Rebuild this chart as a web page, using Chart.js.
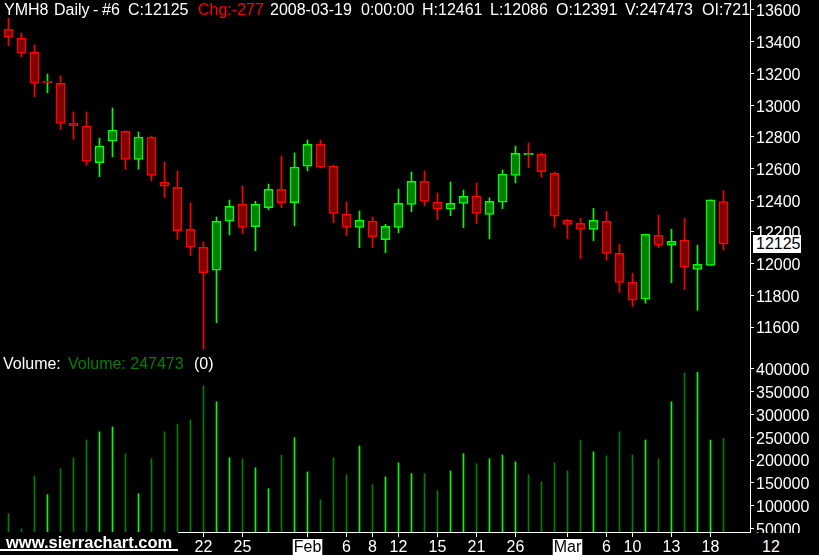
<!DOCTYPE html>
<html><head><meta charset="utf-8">
<script src="https://cdn.jsdelivr.net/npm/chart.js@4/dist/chart.umd.min.js"></script>
<style>
html,body{margin:0;padding:0;background:#000;width:819px;height:555px;overflow:hidden;}
#wrap{position:relative;width:819px;height:555px;background:#000;font-family:"Liberation Sans",Arial,sans-serif;}
canvas{position:absolute;left:0;}
#pc{top:0;}
#vc{top:350px;}
.t{position:absolute;white-space:pre;font-size:16px;line-height:16px;color:#fff;}
#hdr{position:absolute;left:0;top:0;width:750px;height:20px;overflow:hidden;}
</style></head><body>
<div id="wrap">
<canvas id="pc" width="819" height="350"></canvas>
<canvas id="vc" width="819" height="205"></canvas>
<div id="hdr">
  <span class="t" style="left:4px;top:2px">YMH8</span>
  <span class="t" style="left:54px;top:2px">Daily</span>
  <span class="t" style="left:93px;top:2px">-</span>
  <span class="t" style="left:102px;top:2px">#6</span>
  <span class="t" style="left:128px;top:2px">C:12125</span>
  <span class="t" style="left:198px;top:2px;color:#ff0000">Chg:-277</span>
  <span class="t" style="left:270px;top:2px">2008-03-19</span>
  <span class="t" style="left:361px;top:2px">0:00:00</span>
  <span class="t" style="left:422px;top:2px">H:12461</span>
  <span class="t" style="left:490px;top:2px">L:12086</span>
  <span class="t" style="left:556px;top:2px">O:12391</span>
  <span class="t" style="left:625px;top:2px">V:247473</span>
  <span class="t" style="left:702px;top:2px">OI:72100</span>
</div>
<span class="t" style="left:3px;top:356px">Volume:</span>
<span class="t" style="left:68px;top:356px;color:#008000">Volume: 247473</span>
<span class="t" style="left:194px;top:356px">(0)</span>
<div style="position:absolute;left:751px;top:533px;width:68px;height:22px;background:#000"></div>
<span class="t" style="left:762px;top:539px">12</span>
<span class="t" style="left:6px;top:534px;font-weight:bold;font-size:16.5px">www.sierrachart.com</span>
<div style="position:absolute;left:0;top:549px;width:178px;height:2px;background:#fff"></div>
<div id="last" style="position:absolute;left:753px;top:235px;width:48px;height:18px;background:#fff;"><span class="t" style="left:3px;top:1px;color:#000">12125</span></div>
</div>
<script>
// ---- data (YMH8 daily) ----
const dates = ['2007-12-28','2007-12-31','2008-01-02','2008-01-03','2008-01-04','2008-01-07','2008-01-08','2008-01-09','2008-01-10','2008-01-11',
 '2008-01-14','2008-01-15','2008-01-16','2008-01-17','2008-01-18','2008-01-22','2008-01-23','2008-01-24','2008-01-25','2008-01-28',
 '2008-01-29','2008-01-30','2008-01-31','2008-02-01','2008-02-04','2008-02-05','2008-02-06','2008-02-07','2008-02-08','2008-02-11',
 '2008-02-12','2008-02-13','2008-02-14','2008-02-15','2008-02-19','2008-02-20','2008-02-21','2008-02-22','2008-02-25','2008-02-26',
 '2008-02-27','2008-02-28','2008-02-29','2008-03-03','2008-03-04','2008-03-05','2008-03-06','2008-03-07','2008-03-10','2008-03-11',
 '2008-03-12','2008-03-13','2008-03-14','2008-03-17','2008-03-18','2008-03-19'];
const opens  = [13478,13421,13333,13146,13138,12887,12868,12637,12772,12835,12658,12799,12513,12481,12216,12103,11958,12267,12374,12233,
 12353,12469,12384,12614,12753,12616,12313,12229,12267,12151,12229,12374,12519,12387,12343,12380,12425,12311,12387,12557,
 12690,12691,12570,12273,12254,12216,12267,12065,11882,11775,12179,12116,12147,11964,11989,12391];
const highs  = [13548,13455,13379,13196,13184,12957,12957,12792,12982,12837,12830,12805,12641,12584,12382,12136,12294,12401,12490,12393,
 12502,12679,12698,12780,12780,12622,12389,12332,12294,12248,12471,12578,12584,12445,12515,12464,12509,12414,12591,12742,
 12761,12698,12578,12280,12286,12349,12330,12122,11939,12185,12305,12216,12286,12116,12402,12461];
const lows   = [13375,13305,13053,13078,12847,12784,12620,12548,12674,12595,12595,12523,12416,12151,12050,11461,11627,12182,12189,12081,
 12340,12353,12239,12586,12603,12258,12176,12100,12100,12069,12195,12327,12365,12277,12302,12227,12252,12157,12346,12510,
 12605,12545,12229,12157,12031,12145,12021,11819,11728,11750,12100,11880,11838,11705,11989,12086];
const closes = [13428,13327,13138,13146,12885,12870,12645,12742,12843,12658,12799,12557,12488,12208,12103,11943,12267,12362,12229,12374,
 12469,12384,12609,12753,12608,12317,12229,12273,12170,12235,12380,12519,12393,12343,12380,12425,12317,12393,12565,12696,
 12692,12580,12300,12248,12216,12273,12065,11882,11769,12185,12116,12141,11977,11996,12402,12125];
const volumes = [82000,49000,165000,124000,181000,205000,244000,262000,273000,214000,126000,203000,262000,279000,288000,363000,328000,205000,203000,183000,
 137000,211000,249000,174000,113000,205000,168000,231000,146000,163000,194000,170000,170000,133000,176000,214000,192000,203000,211000,196000,
 168000,152000,194000,176000,244000,218000,209000,262000,211000,244000,203000,328000,391000,393000,244000,247473];
const tickIdx  = [15,18,23,26,28,30,33,36,39,43,46,48,51,54];
const tickText = ['22','25','Feb','6','8','12','15','21','26','Mar','6','10','13','18'];
const monthTicks = ['Feb','Mar'];
const priceTicks = [11600,11800,12000,12200,12400,12600,12800,13000,13200,13400,13600];
const volTicks = [50000,100000,150000,200000,250000,300000,350000,400000];

// ---- styling ----
const UP_EDGE='#00ff00', DN_EDGE='#ff0000', UP_FILL='#008000', DN_FILL='#800000';
const VOL_UP='#00ff00', VOL_DN='#008000';
const FONT='"Liberation Sans", Arial, sans-serif';
Chart.defaults.font.family = FONT;
Chart.defaults.font.size = 16;

const n = closes.length;
const xMin = -8.5/13, xMax = xMin + 750/13;
const bodyUp = closes.map((c,i)=> c > opens[i]);
const moveUp = closes.map((c,i)=> i===0 ? c > opens[i] : c >= closes[i-1]);

const bodyData = closes.map((c,i)=>{
  const o = opens[i];
  if (Math.abs(o-c) < 6) { const m=(o+c)/2; return {x:i, y:[m-5, m+5]}; }
  return {x:i, y:[o, c]};
});
const wickData = closes.map((c,i)=>({x:i, y:[lows[i], highs[i]]}));
const volData = volumes.map((v,i)=>({x:i, y:v}));

const yAxisCommon = (min,max,ticksArr)=>({
  position:'right', min:min, max:max,
  afterBuildTicks: s=>{ s.ticks = ticksArr.map(v=>({value:v})); },
  afterFit: s=>{ s.width = 69; s.paddingTop = 0; s.paddingBottom = 0; },
  border:{display:true, color:'#fff', width:1},
  grid:{drawOnChartArea:false, drawTicks:true, color:'#fff', tickLength:4},
  ticks:{color:'#fff', padding:2, labelOffset:2, font:{size:16, family:FONT}, callback:v=>String(v)}
});

const lastLabel = {
  id:'lastLabel',
  afterDraw(chart){
    const y = chart.scales.y.getPixelForValue(closes[n-1]);
    document.getElementById('last').style.top = (Math.round(y) - 9) + 'px';
  }
};

new Chart(document.getElementById('pc'), {
  type:'bar',
  data:{datasets:[
    {label:'Body', data:bodyData, order:0, grouped:false, barThickness:9,
     backgroundColor: bodyUp.map(u=>u?UP_FILL:DN_FILL),
     borderColor: bodyUp.map(u=>u?UP_EDGE:DN_EDGE),
     borderWidth:1.5, borderSkipped:false},
    {label:'Wick', data:wickData, order:1, grouped:false, barThickness:1,
     backgroundColor: moveUp.map(u=>u?UP_EDGE:DN_EDGE), borderWidth:0}
  ]},
  options:{
    responsive:false, animation:false, devicePixelRatio:1,
    layout:{padding:0},
    plugins:{legend:{display:false}, tooltip:{enabled:false}, title:{display:false}},
    scales:{
      x:{type:'linear', min:xMin, max:xMax, display:false, offset:false, grid:{offset:false}},
      y:yAxisCommon(11455, 13663, priceTicks)
    }
  },
  plugins:[lastLabel]
});

const baseLine = {
  id:'baseLine',
  afterDraw(chart){
    const a = chart.chartArea, ctx = chart.ctx;
    ctx.save(); ctx.fillStyle='#fff';
    ctx.fillRect(178, a.bottom, a.right-178, 1);
    ctx.restore();
  }
};

new Chart(document.getElementById('vc'), {
  type:'bar',
  data:{datasets:[
    {label:'Volume', data:volData, barThickness:1, grouped:false,
     backgroundColor: moveUp.map(u=>u?VOL_UP:VOL_DN), borderWidth:0}
  ]},
  options:{
    responsive:false, animation:false, devicePixelRatio:1,
    layout:{padding:0},
    plugins:{legend:{display:false}, tooltip:{enabled:false}},
    scales:{
      x:{type:'linear', min:xMin, max:xMax, position:'bottom', offset:false,
         afterBuildTicks: s=>{ s.ticks = tickIdx.map(v=>({value:v})); },
         afterFit: s=>{ s.height = 23; s.paddingLeft = 0; s.paddingRight = 0; },
         border:{display:false},
         grid:{drawOnChartArea:false, drawTicks:true, color:'#fff', tickLength:5, offset:false},
         ticks:{autoSkip:false, maxRotation:0, minRotation:0, padding:2,
           font:{size:16, family:FONT, lineHeight:1.1},
           callback: v=>{ const k = tickIdx.indexOf(v); return k>=0 ? tickText[k] : ''; },
           color: c=> monthTicks.includes(c.tick && c.tick.label) ? '#000' : '#fff',
           showLabelBackdrop: c=> monthTicks.includes(c.tick && c.tick.label),
           backdropColor: c=> monthTicks.includes(c.tick && c.tick.label) ? '#fff' : 'rgba(0,0,0,0)',
           backdropPadding:{x:1, y:0}}
      },
      y:yAxisCommon(41870, 441740, volTicks)
    }
  },
  plugins:[baseLine]
});
</script>
</body></html>
